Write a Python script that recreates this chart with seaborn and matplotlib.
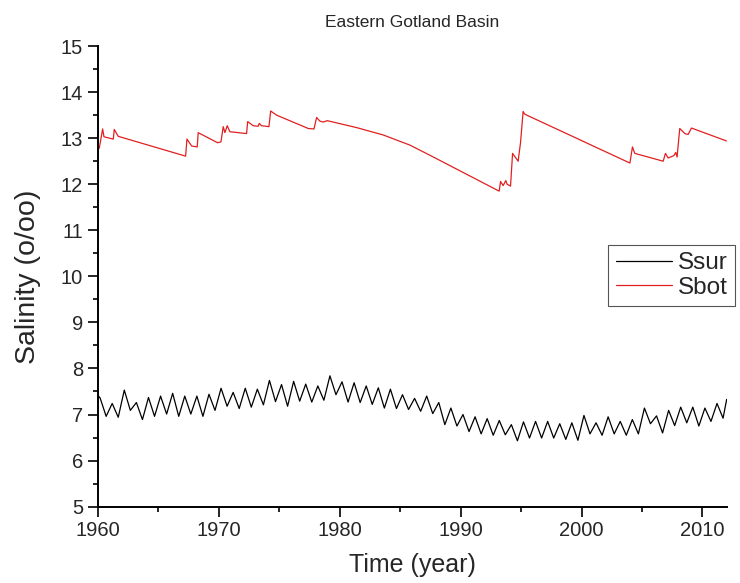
import matplotlib
matplotlib.use("Agg")
import matplotlib.pyplot as plt
import seaborn as sns
import pandas as pd
from matplotlib.ticker import MultipleLocator

## surface salinity: one summer peak and one winter trough per year
years = list(range(1960, 2012))
ssur_peak = [7.36, 7.24, 7.53, 7.26, 7.37, 7.40, 7.46, 7.40, 7.40, 7.44,
             7.57, 7.48, 7.57, 7.55, 7.74, 7.65, 7.72, 7.66, 7.62, 7.84,
             7.71, 7.69, 7.62, 7.58, 7.55, 7.43, 7.35, 7.40, 7.26, 7.14,
             7.00, 6.95, 6.91, 6.87, 6.78, 6.84, 6.85, 6.85, 6.80, 6.82,
             6.98, 6.82, 6.95, 6.85, 6.89, 7.14, 6.97, 7.09, 7.16, 7.16,
             7.14, 7.24]
ssur_trough = [6.96, 6.94, 7.09, 6.89, 6.96, 7.01, 6.96, 7.01, 6.96, 7.09,
               7.18, 7.13, 7.16, 7.21, 7.28, 7.18, 7.29, 7.27, 7.31, 7.43,
               7.27, 7.26, 7.22, 7.14, 7.13, 7.11, 7.07, 7.02, 6.78, 6.75,
               6.63, 6.58, 6.55, 6.56, 6.43, 6.49, 6.49, 6.49, 6.46, 6.44,
               6.58, 6.55, 6.58, 6.55, 6.58, 6.80, 6.60, 6.76, 6.82, 6.75,
               6.85, 6.92]
ssur_start = (1960.0, 7.42)
ssur_end = (2012.0, 7.33)
peak_phase = 0.2
trough_phase = 0.7

## bottom salinity (inflow events)
sbot_time = [1960.05, 1960.13, 1960.41, 1960.52, 1961.29, 1961.37, 1961.70,
             1967.27, 1967.38, 1967.77, 1968.23, 1968.31, 1969.92, 1970.19,
             1970.38, 1970.52, 1970.71, 1970.93, 1972.31, 1972.40, 1972.86,
             1973.27, 1973.36, 1973.55, 1974.16, 1974.30, 1974.79, 1977.41,
             1977.88, 1978.10, 1978.37, 1978.65, 1978.98, 1981.40, 1983.60,
             1985.81, 1987.46, 1993.19, 1993.31, 1993.52, 1993.74, 1993.85,
             1994.13, 1994.30, 1994.76, 1994.96, 1995.17, 1995.31, 2004.00,
             2004.21, 2004.40, 2006.75, 2006.94, 2007.16, 2007.63, 2007.79,
             2007.90, 2008.12, 2008.54, 2008.81, 2009.09, 2011.98]
sbot_value = [12.78, 12.78, 13.20, 13.03, 12.98, 13.19, 13.04,
              12.61, 12.98, 12.83, 12.81, 13.12, 12.90, 12.92,
              13.25, 13.12, 13.27, 13.14, 13.10, 13.36, 13.27,
              13.26, 13.32, 13.27, 13.25, 13.59, 13.50, 13.21,
              13.20, 13.45, 13.37, 13.35, 13.38, 13.23, 13.07,
              12.85, 12.63, 11.85, 12.06, 11.97, 12.08, 12.00,
              11.96, 12.67, 12.50, 12.91, 13.58, 13.52, 12.46,
              12.81, 12.67, 12.50, 12.67, 12.57, 12.62, 12.69,
              12.59, 13.21, 13.10, 13.08, 13.22, 12.94]

## build surface series
t_sur = [ssur_start[0]]
v_sur = [ssur_start[1]]
for y, p, tr in zip(years, ssur_peak, ssur_trough):
    t_sur += [y + peak_phase, y + trough_phase]
    v_sur += [p, tr]
t_sur.append(ssur_end[0])
v_sur.append(ssur_end[1])
sur = pd.DataFrame({"time": t_sur, "sal": v_sur})
bot = pd.DataFrame({"time": sbot_time, "sal": sbot_value})

sns.set_style("ticks")
plt.rcParams["font.family"] = ["Liberation Sans", "DejaVu Sans"]

fig = plt.figure(figsize=(7.4, 5.83), dpi=100)
ax = fig.add_axes([0.132, 0.131, 0.850, 0.790])

sns.lineplot(x="time", y="sal", data=sur, color="black", linewidth=0.9,
             label="Ssur", sort=False, estimator=None, ax=ax)
sns.lineplot(x="time", y="sal", data=bot, color="#e02020", linewidth=0.9,
             label="Sbot", sort=False, estimator=None, ax=ax)

ax.set_xlim(1960, 2012)
ax.set_ylim(5, 15)
ax.xaxis.set_major_locator(MultipleLocator(10))
ax.xaxis.set_minor_locator(MultipleLocator(5))
ax.yaxis.set_major_locator(MultipleLocator(1))
ax.yaxis.set_minor_locator(MultipleLocator(0.5))
ax.tick_params(which="major", direction="out", length=7, width=1.2,
               labelsize=14.5, color="black")
ax.tick_params(which="minor", direction="out", length=3.5, width=1.2,
               color="black")
for s in ["left", "bottom"]:
    ax.spines[s].set_linewidth(1.4)
    ax.spines[s].set_color("black")
sns.despine(ax=ax)

ax.set_xlabel("Time (year)", fontsize=18, labelpad=9.5)
ax.set_ylabel("Salinity (o/oo)", fontsize=20.5, labelpad=14)
ax.set_title("Eastern Gotland Basin", fontsize=12.5, pad=14)

leg = ax.legend(loc="upper left", bbox_to_anchor=(0.812, 0.568),
                borderaxespad=0, fontsize=17.5, handlelength=2.3,
                handletextpad=0.25, borderpad=0.3, labelspacing=0.1,
                fancybox=False, frameon=True)
leg.get_frame().set_edgecolor("#555555")
leg.get_frame().set_linewidth(0.8)
leg.get_frame().set_alpha(1)
for line in leg.get_lines():
    line.set_linewidth(0.9)

fig.savefig("out.png", dpi=100)
